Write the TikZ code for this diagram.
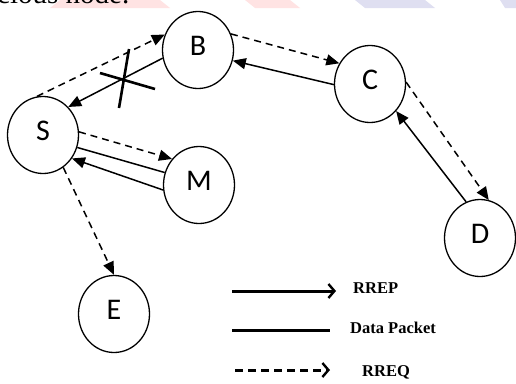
\documentclass[tikz,border=0pt]{standalone}
\usepackage{fontspec}
\setmainfont{Liberation Serif}
\newfontfamily\nodefont{Carlito}
\usetikzlibrary{arrows.meta,shapes.geometric}
\begin{document}
\begin{tikzpicture}[x=1pt,y=-1pt,
  peer/.style={draw,ellipse,line width=1.3pt,minimum width=71pt,minimum height=77pt,
    inner sep=0pt,text height=19pt,text depth=8pt,font=\nodefont\fontsize{30}{30}\selectfont},
  rreq/.style={line width=1.5pt,dash pattern=on 7pt off 5pt,-{Triangle[length=13pt,width=11pt]}},
  rrep/.style={line width=1.5pt,-{Triangle[length=13pt,width=11pt]}},
  datapk/.style={line width=1.5pt},
  cross/.style={line width=2.6pt},
  keyline/.style={line width=3pt},
  keytext/.style={anchor=west,inner sep=0pt,font=\bfseries\fontsize{16.5}{16.5}\selectfont},
  shade/.style={fill opacity=0.18}]
\path[use as bounding box] (0,0) rectangle (516,383);

% tail of the preceding line of text and the page band above the figure
\begin{scope}
  \clip (0,0) rectangle (516,8);
  \fill[red!60,shade] (50,8) -- (170,8) -- (160,0) -- (60,0) -- cycle;
  \fill[red!60,shade] (255,8) -- (300,8) -- (290,0) -- (245,0) -- cycle;
  \fill[blue!40!gray,shade] (365,8) -- (435,8) -- (425,0) -- (355,0) -- cycle;
  \fill[blue!40!gray,shade] (505,8) -- (516,8) -- (516,0) -- (500,0) -- cycle;
  \node[anchor=base west,inner sep=0pt,font=\fontsize{29}{29}\selectfont] (prev) at (-3,3.5) {cious node.};
\end{scope}

% network nodes
\node[peer] (S) at (43,135) {S};
\node[peer] (B) at (198,50) {B};
\node[peer] (M) at (199,185) {M};
\node[peer] (C) at (370,84) {C};
\node[peer] (D) at (480,238) {D};
\node[peer] (E) at (114,314) {E};

% route requests
\draw[rreq] (S.99) -- (B.155);
\draw[rreq] (S.5) -- (M.136);
\draw[rreq] (S.302) -- (E.north);
\draw[rreq] (B.26) -- (C.146);
\draw[rreq] (C.3) -- (D.77);

% route replies and data
\draw[rrep] (B.193) -- (S.48);
\draw[datapk] (S.340) -- (M.160);
\draw[rrep] (M.188) -- (S.321);
\draw[rrep] (C.181) -- (B.343);
\draw[rrep] (D.111) -- (C.314);

% broken link between B and S
\coordinate (x1) at (100,73);
\coordinate (x2) at (155,89);
\coordinate (x3) at (129,49);
\coordinate (x4) at (119,108);
\draw[cross] (x1) -- (x2);
\draw[cross] (x3) -- (x4);

% legend
\coordinate (k1a) at (232,291); \coordinate (k1b) at (336,291);
\coordinate (k2a) at (232,330); \coordinate (k2b) at (330,330);
\coordinate (k3a) at (235,370); \coordinate (k3b) at (330,370);
\draw[keyline,-{Straight Barb[length=6pt,width=14pt,line width=2.4pt]}] (k1a) -- (k1b);
\draw[keyline] (k2a) -- (k2b);
\draw[keyline,dash pattern=on 8pt off 5pt,-{Straight Barb[length=6pt,width=14pt,line width=2.4pt]}] (k3a) -- (k3b);
\node[keytext] (lrrep) at (353,288) {RREP};
\node[keytext] (ldata) at (350,328) {Data Packet};
\node[keytext] (lrreq) at (362,372) {RREQ};
\end{tikzpicture}
\end{document}
